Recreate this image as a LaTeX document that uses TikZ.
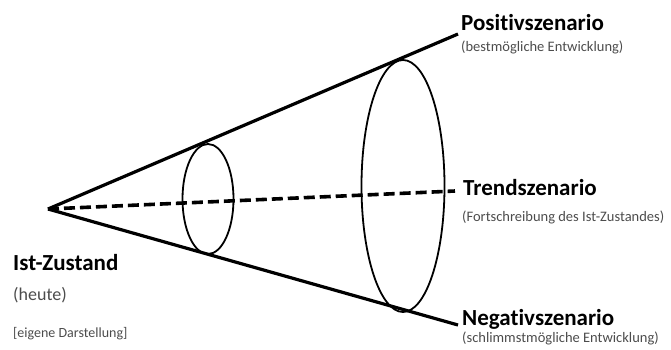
\documentclass[tikz,border=0pt]{standalone}
\usepackage{fontspec}
\setmainfont[RawFeature=-liga]{Carlito}
\begin{document}
\begin{tikzpicture}[x=1pt,y=-1pt,
  cone/.style={line width=3.2pt},
  trend/.style={line width=3.6pt,dash pattern=on 11pt off 5pt},
  ring/.style={line width=1.8pt},
  head/.style={anchor=base west,inner sep=0pt,font=\fontsize{23}{24}\selectfont\bfseries},
  sub/.style={anchor=base west,inner sep=0pt,text=black!70,font=\fontsize{14.5}{16}\selectfont}]
\useasboundingbox (0,0) rectangle (671,349);
\coordinate (apex) at (48,209);
\coordinate (top) at (458,34);
\coordinate (mid) at (455,191);
\coordinate (bot) at (458,325);
\draw[ring] (208,199) ellipse [x radius=25.5, y radius=55];
\draw[ring] (403,186) ellipse [x radius=41.5, y radius=126];
\draw[cone] (apex) -- (top);
\draw[cone] (apex) -- (bot);
\draw[trend] (apex) -- (mid);
\node[head] (pos) at (461,30) {Positivszenario};
\node[sub] (possub) at (461,51) {(bestmögliche Entwicklung)};
\node[head] (tre) at (463,195) {Trendszenario};
\node[sub] (tresub) at (462,221) {(Fortschreibung des Ist-Zustandes)};
\node[head] (neg) at (462,325) {Negativszenario};
\node[sub] (negsub) at (462,342) {(schlimmstmögliche Entwicklung)};
\node[head] (ist) at (13,270) {Ist-Zustand};
\node[sub,font=\fontsize{18}{20}\selectfont] (heute) at (13,300) {(heute)};
\node[sub,font=\fontsize{14}{16}\selectfont] (src) at (13,337) {[eigene Darstellung]};
\end{tikzpicture}
\end{document}
